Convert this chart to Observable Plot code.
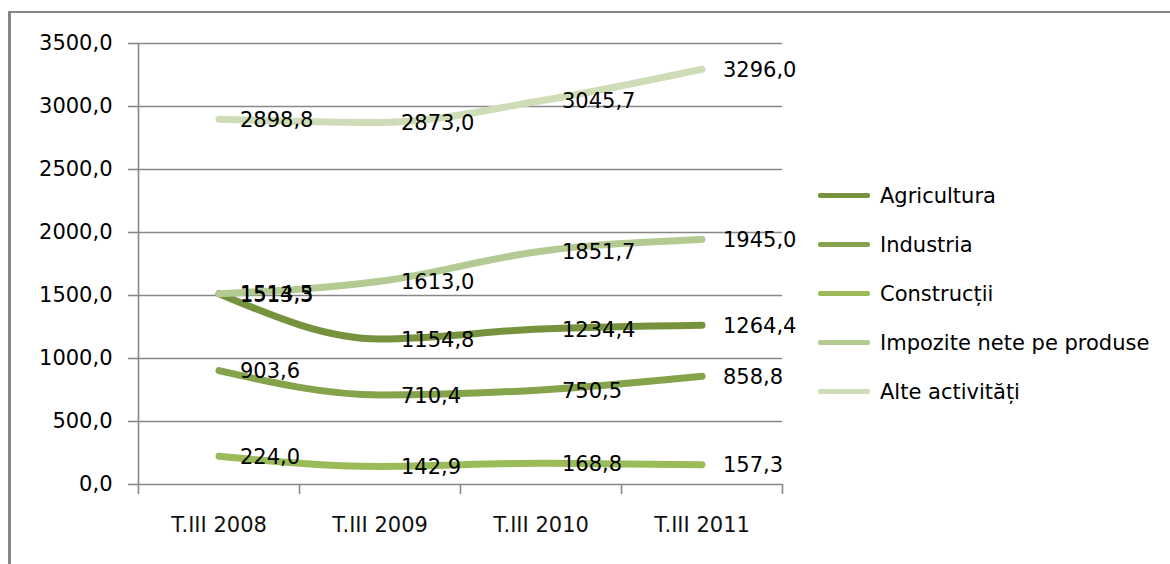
<!DOCTYPE html>
<html>
<head>
<meta charset="utf-8">
<script src="https://cdn.jsdelivr.net/npm/d3@7"></script>
<script src="https://cdn.jsdelivr.net/npm/@observablehq/plot@0.6"></script>
<style>
  body { margin: 0; background: #fff; }
  #wrap { position: relative; width: 1170px; height: 564px; overflow: hidden; font-family: "DejaVu Sans", sans-serif; }
  #frame { position: absolute; left: 8px; top: 11px; right: -5px; bottom: -5px; border-left: 3px solid #868686; border-top: 2px solid #868686; pointer-events: none; }
  #chart { position: absolute; left: 0; top: 0; }
  #legend { position: absolute; left: 818px; top: 171px; }
  .row { display: flex; align-items: center; height: 49px; }
  .sw { width: 52px; height: 5px; border-radius: 2px; margin-right: 10px; }
  .lab { font-size: 21px; color: #000; white-space: nowrap; }
</style>
</head>
<body>
<div id="wrap">
  <div id="chart"></div>
  <div id="legend"></div>
  <div id="frame"></div>
</div>
<script>
// ---- data ----
const categories = ["T.III 2008", "T.III 2009", "T.III 2010", "T.III 2011"];
const seriesNames = ["Agricultura", "Industria", "Construcții", "Impozite nete pe produse", "Alte activități"];
const agricultura = [1514.5, 1154.8, 1234.4, 1264.4];
const industria   = [903.6, 710.4, 750.5, 858.8];
const constructii = [224.0, 142.9, 168.8, 157.3];
const impozite    = [1513.3, 1613.0, 1851.7, 1945.0];
const alte        = [2898.8, 2873.0, 3045.7, 3296.0];
const seriesColors = ["#76923c", "#84a34a", "#9bbb59", "#b3ca93", "#ceddb8"];
const yTicks = [0, 500, 1000, 1500, 2000, 2500, 3000, 3500];

const seriesValues = [agricultura, industria, constructii, impozite, alte];
const rows = [];
seriesValues.forEach((vals, s) => vals.forEach((v, i) => rows.push({series: seriesNames[s], i, v})));

const fmt = d => d.toFixed(1).replace(".", ",");
const boundaries = d3.range(categories.length + 1).map(k => k - 0.5);

const plot = Plot.plot({
  width: 1170,
  height: 564,
  marginLeft: 138,
  marginRight: 388,
  marginTop: 43,
  marginBottom: 80,
  style: { fontFamily: "DejaVu Sans, sans-serif", fontSize: "21px", background: "transparent" },
  x: { type: "linear", domain: [-0.5, categories.length - 0.5] },
  y: { domain: [0, 3500] },
  color: { domain: seriesNames, range: seriesColors },
  marks: [
    Plot.ruleY(yTicks, { stroke: "#888", strokeWidth: 1.6 }),
    Plot.axisY({ ticks: yTicks, tickFormat: fmt, tickSize: 10, tickPadding: 16, stroke: "#888", strokeWidth: 1.6, strokeOpacity: 1, fill: "#000", fontSize: 21, label: null }),
    Plot.axisX({ ticks: boundaries, tickFormat: () => "", tickSize: 10, stroke: "#888", strokeWidth: 1.6, strokeOpacity: 1, label: null }),
    Plot.axisX({ ticks: d3.range(categories.length), tickFormat: i => categories[i], tickSize: 0, tickPadding: 33, fill: "#111", fontSize: 21, label: null }),
    Plot.ruleX([boundaries[0]], { y1: 0, y2: 3500, stroke: "#888", strokeWidth: 1.6 }),
    Plot.line(rows, { x: "i", y: "v", z: "series", stroke: "series", strokeWidth: 7, curve: "monotone-x", strokeLinecap: "round", strokeLinejoin: "round" }),
    Plot.text(rows, { x: "i", y: "v", text: d => fmt(d.v), dx: 21, dy: 1, textAnchor: "start", fill: "#000", fontSize: 21 })
  ]
});
document.getElementById("chart").appendChild(plot);

const legend = document.getElementById("legend");
seriesNames.forEach((name, s) => {
  const row = document.createElement("div");
  row.className = "row";
  const sw = document.createElement("span");
  sw.className = "sw";
  sw.style.background = seriesColors[s];
  const lab = document.createElement("span");
  lab.className = "lab";
  lab.textContent = name;
  row.appendChild(sw);
  row.appendChild(lab);
  legend.appendChild(row);
});
</script>
</body>
</html>
